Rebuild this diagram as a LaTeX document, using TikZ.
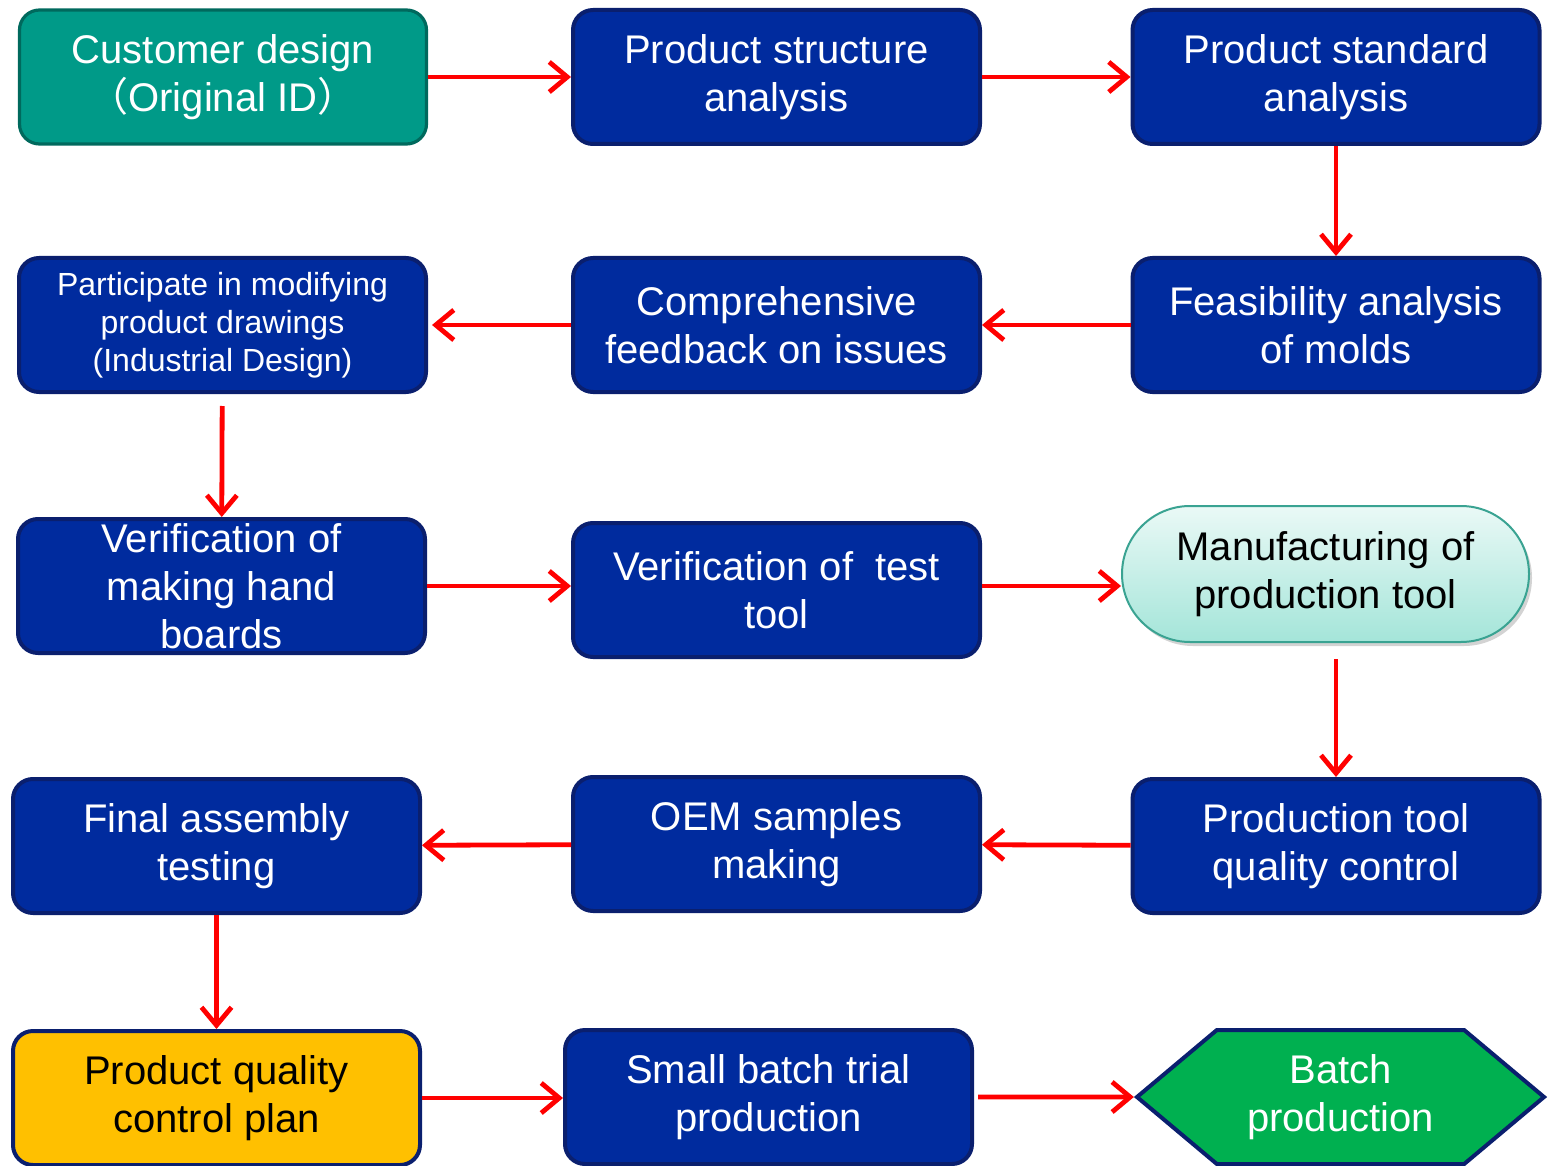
\documentclass[tikz,border=0pt]{standalone}
\usepackage{fontspec}
\setmainfont{Liberation Sans}
\newfontfamily\cjkfont{Noto Sans CJK SC}
\usetikzlibrary{shapes.symbols, shapes.misc, arrows.meta, shadows}
\definecolor{boxblue}{HTML}{002B9E}
\definecolor{boxedge}{HTML}{0A1F6E}
\definecolor{tealfill}{HTML}{009A88}
\definecolor{tealedge}{HTML}{00695D}
\definecolor{mintedge}{HTML}{3AA392}
\definecolor{minttop}{HTML}{EAF9F6}
\definecolor{mintbottom}{HTML}{A4E5D9}
\definecolor{planyellow}{HTML}{FFC000}
\definecolor{batchgreen}{HTML}{00B050}
\definecolor{arrowred}{HTML}{FF0000}

\begin{document}
\begin{tikzpicture}[
    x=0.5pt, y=-0.5pt,
    every node/.style={font=\fontsize{20}{24}\selectfont, align=center},
    task/.style={rectangle, draw=boxedge, line width=2pt, fill=boxblue, text=white, rounded corners=10pt, minimum width=203.5pt, minimum height=67pt, inner sep=2pt},
    start/.style={task, draw=tealedge, line width=1.6pt, fill=tealfill},
    plan/.style={task, fill=planyellow, text=black},
    tool/.style={rectangle, rounded corners=34pt, draw=mintedge, line width=1pt, top color=minttop, bottom color=mintbottom, text=black, minimum width=203.5pt, minimum height=68pt, drop shadow={opacity=0.35, shadow xshift=1.5pt, shadow yshift=-2pt}},
    finish/.style={signal, signal to=east and west, signal pointer angle=80, draw=boxedge, line width=2pt, fill=batchgreen, text=white, minimum width=203.5pt, minimum height=67pt, inner sep=0pt},
    arr/.style={-{Straight Barb[length=9pt, width=15pt]}, line width=2.4pt, arrowred}
]
    \useasboundingbox (0,0) rectangle (1552,1166);

    % first row
    \node[start] (cust)   at (223,77)    {Customer design\\{\cjkfont （}Original ID{\cjkfont ）}};
    \node[task]  (struct) at (776.5,77)  {Product structure\\analysis};
    \node[task]  (std)    at (1336,77)   {Product standard\\analysis};

    % second row
    \node[task]  (feas)   at (1336,325)  {Feasibility analysis\\of molds};
    \node[task]  (comp)   at (776.5,325) {Comprehensive\\feedback on issues};
    \node[task, font=\fontsize{16}{19}\selectfont] (part) at (222.5,325)
        {Participate in modifying\\product drawings\\(Industrial Design)};

    % third row
    \node[task, inner ysep=0pt] (hand) at (221.5,586) {Verification of\\making hand\\boards};
    \node[task]  (test)   at (776.5,590) {Verification of\ \ test\\tool};
    \node[tool]  (manuf)  at (1325.5,574) {Manufacturing of\\production tool};

    % fourth row
    \node[task]  (ptool)  at (1336,846)  {Production tool\\quality control};
    \node[task]  (oem)    at (776.5,844) {OEM samples\\making};
    \node[task]  (final)  at (216.5,846) {Final assembly\\testing};

    % last row
    \node[plan]   (pqcp)  at (216.5,1098) {Product quality\\control plan};
    \node[task]   (small) at (768.5,1097) {Small batch trial\\production};
    \node[finish] (batch) at (1340.5,1097) {Batch\\production};

    \draw[arr] (cust) -- (struct);
    \draw[arr] (struct) -- (std);
    \draw[arr] (std) -- (feas);
    \draw[arr] (feas) -- (comp);
    \draw[arr, shorten >=2pt] (comp) -- (part);
    \draw[arr, shorten <=6pt] (part) -- (hand);
    \draw[arr] (hand) -- (hand -| test.west);
    \draw[arr] (test.east |- hand) -- (hand -| manuf.west);
    \draw[arr, shorten <=8pt] (manuf.south -| ptool) -- (ptool);
    \draw[arr] (ptool) -- (oem);
    \draw[arr] (oem) -- (final);
    \draw[arr] (final) -- (pqcp);
    \draw[arr] (pqcp) -- (pqcp -| small.west);
    \draw[arr, shorten <=2pt] (small) -- (batch);
\end{tikzpicture}
\end{document}
